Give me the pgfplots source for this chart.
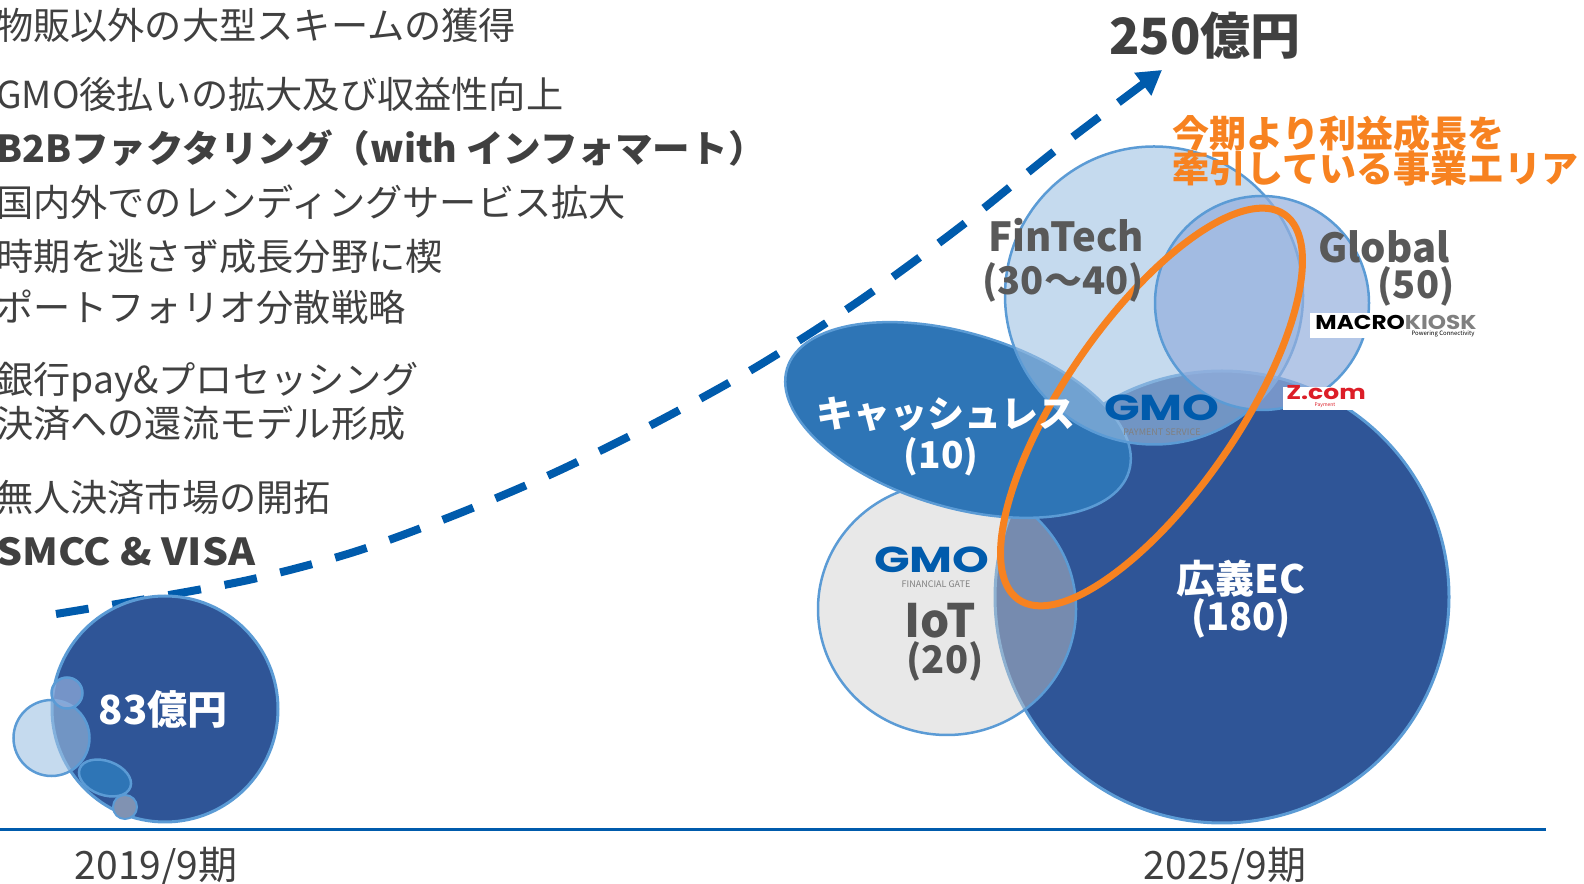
\documentclass[border=0pt]{standalone}
\usepackage{pgfplots}
\pgfplotsset{compat=1.18}
\usetikzlibrary{arrows.meta}
\usepackage{fontspec}
\setmainfont{Noto Sans CJK JP}
\newfontfamily\poppins{Poppins}
\definecolor{ecblue}{RGB}{47,85,151}
\definecolor{edgeblue}{RGB}{91,155,213}
\definecolor{ftblue}{RGB}{158,193,227}
\definecolor{glblue}{RGB}{148,175,221}
\definecolor{cashblue}{RGB}{46,117,182}
\definecolor{iotgray}{RGB}{205,205,205}
\definecolor{iotsmall}{RGB}{128,146,178}
\definecolor{orng}{RGB}{247,130,32}
\definecolor{dashblue}{RGB}{0,91,172}
\definecolor{txtgray}{RGB}{64,64,64}
\definecolor{lblgray}{RGB}{89,89,89}
\definecolor{zred}{RGB}{220,30,40}
\colorlet{bc0}{ecblue}
\colorlet{bc1}{ftblue}
\colorlet{bc2}{glblue}
\colorlet{bc3}{cashblue}
\colorlet{bc4}{iotsmall}
\colorlet{bc5}{iotgray}
\colorlet{bc6}{white}
\colorlet{bc7}{edgeblue}
\colorlet{bc8}{orng}
\pgfdeclareplotmark{empty}{}
\newcommand{\fs}[1]{\fontsize{#1}{#1}\selectfont}

% fc / ec are colour indices bc0..bc8
\pgfplotstableread{
x y rx ry ang fc fo ec lw
165 709 113 113 0 0 1 7 3
51.5 738 38 38 0 1 0.6 7 2.5
67 693 15.5 15.5 0 2 0.7 7 2.5
105 778 27 17 -20 3 1 7 2.5
125 807 12 12 0 4 1 7 2
1222 597 227 226 0 0 1 7 3
947 609 129 126 0 5 0.45 7 2.5
958 420 178.5 87 -16.7 3 1 7 2.5
1154 295.5 149 149 0 1 0.6 7 2.5
1262 303 107 107 0 2 0.7 7 2.5
}\bubbles

\pgfplotstableread{
x y rx ry ang fc fo ec lw
1151.5 407 234 87 55.4 6 0 8 7
}\focus

\newcommand{\bubblepath}{%
  \pgfmathsetmacro\bAx{\bRX*cos(\bAng)}%
  \pgfmathsetmacro\bAy{\bRX*sin(\bAng)}%
  \pgfmathsetmacro\bBx{-\bRY*sin(\bAng)}%
  \pgfmathsetmacro\bBy{\bRY*cos(\bAng)}%
  \pgfpathellipse{\pgfpointorigin}{\pgfpoint{\bAx pt}{\bAy pt}}{\pgfpoint{\bBx pt}{\bBy pt}}}

\pgfplotsset{bubble/.style={
  scatter, only marks, mark=empty,
  visualization depends on={\thisrow{rx}\as\bRX},
  visualization depends on={\thisrow{ry}\as\bRY},
  visualization depends on={\thisrow{ang}\as\bAng},
  visualization depends on={\thisrow{fo}\as\bFO},
  visualization depends on={\thisrow{lw}\as\bLW},
  visualization depends on={\thisrow{fc}\as\bFC},
  visualization depends on={\thisrow{ec}\as\bEC},
  scatter/@pre marker code/.code={%
    \pgfmathtruncatemacro\bFCi{\bFC}%
    \pgfmathtruncatemacro\bECi{\bEC}%
    \begin{pgfscope}%
      \pgfsetfillcolor{bc\bFCi}\pgfsetfillopacity{\bFO}%
      \bubblepath\pgfusepath{fill}%
    \end{pgfscope}%
    \begin{pgfscope}%
      \pgfsetstrokecolor{bc\bECi}\pgfsetstrokeopacity{1}\pgfsetlinewidth{\bLW pt}%
      \bubblepath\pgfusepath{stroke}%
    \end{pgfscope}%
  },
  scatter/@post marker code/.code={},
}}

\begin{document}
\begin{tikzpicture}
\begin{axis}[
  width=1584pt, height=883pt, scale only axis,
  xmin=0, xmax=1584, ymin=0, ymax=883, y dir=reverse,
  hide axis, clip=false, set layers=standard,
]
\coordinate (BL) at (axis cs:0,883);
\coordinate (TR) at (axis cs:1584,0);

% base line
\addplot[dashblue, line width=3pt] coordinates {(0,829.5) (1546,829.5)};

% growth arrow
\addplot[dashblue, line width=8pt, smooth, dash pattern=on 33pt off 24pt,
  -{Triangle[length=24pt, width=27pt]}] coordinates {
(56,614) (152,598) (253,579) (354,552) (455,515) (556,472) (657,422)
(758,366) (859,301) (960,227) (1061,146) (1162,70)};

% bubbles
\addplot[bubble] table[x=x, y=y] {\bubbles};
% focus ellipse
\addplot[bubble] table[x=x, y=y] {\focus};

\begin{pgfonlayer}{axis foreground}
% left text
\begin{scope}[every node/.style={anchor=base west, inner sep=0pt, text=txtgray, font=\fs{37.2}}]
\node at (axis cs:-4,40) {物販以外の大型スキームの獲得};
\node at (axis cs:-4,109) {GMO後払いの拡大及び収益性向上};
\node[xscale=1.01] at (axis cs:-4,162.5) {\bfseries B2Bファクタリング（with インフォマート）};
\node at (axis cs:-4,217) {国内外でのレンディングサービス拡大};
\node at (axis cs:-4,270.5) {時期を逃さず成長分野に楔};
\node at (axis cs:-4,322) {ポートフォリオ分散戦略};
\node at (axis cs:-4,394) {銀行pay\&プロセッシング};
\node at (axis cs:-4,438) {決済への還流モデル形成};
\node at (axis cs:-4,512) {無人決済市場の開拓};
\node[xscale=1.1] at (axis cs:-4,566) {\bfseries SMCC \& VISA};
\end{scope}

% headline and orange note
\node[anchor=base, inner sep=0pt, text=txtgray, font=\fs{50}\bfseries] at (axis cs:1205,54.5) {250億円};
\node[anchor=base west, inner sep=0pt, text=orng, font=\fs{37}\bfseries] at (axis cs:1172,147.3) {今期より利益成長を};
\node[anchor=base west, inner sep=0pt, text=orng, font=\fs{37}\bfseries] at (axis cs:1172,182.7) {牽引している事業エリア};

% bubble labels
\begin{scope}[every node/.style={anchor=base, inner sep=0pt}]
\node[text=lblgray, font=\fs{40}\bfseries] at (axis cs:1066,252) {FinTech};
\node[text=lblgray, font=\fs{38}\bfseries] at (axis cs:1063,295) {(30〜40)};
\node[text=lblgray, font=\fs{40}\bfseries] at (axis cs:1384,263) {Global};
\node[text=lblgray, font=\fs{38}\bfseries] at (axis cs:1416,299) {(50)};
\node[text=white, font=\fs{37}\bfseries] at (axis cs:946,428) {キャッシュレス};
\node[text=white, font=\fs{37}\bfseries] at (axis cs:941,469) {(10)};
\node[text=white, font=\fs{39}\bfseries] at (axis cs:1241,594) {広義EC};
\node[text=white, font=\fs{38}\bfseries] at (axis cs:1241,631) {(180)};
\node[text=txtgray!90!white, font=\fs{46}\bfseries] at (axis cs:940,638) {IoT};
\node[text=txtgray!90!white, font=\fs{38}\bfseries] at (axis cs:945,674) {(20)};
\node[text=white, font=\fs{40}\bfseries] at (axis cs:163,725) {83億円};
\node[text=txtgray, font=\fs{39}] at (axis cs:156,880) {2019/9期};
\node[text=txtgray, font=\fs{39}] at (axis cs:1225,880) {2025/9期};
\end{scope}

% logos
\node[inner sep=0pt, text=dashblue, font=\poppins\fs{36}\bfseries, xscale=1.3] at (axis cs:1162,408) {GMO};
\node[inner sep=0pt, text=gray, font=\fs{9}] at (axis cs:1162,432) {PAYMENT SERVICE};
\node[inner sep=0pt, text=dashblue, font=\poppins\fs{36}\bfseries, xscale=1.3] at (axis cs:932,560) {GMO};
\node[inner sep=0pt, text=gray, font=\fs{9}] at (axis cs:936,584) {FINANCIAL GATE};
\node[fill=white, inner sep=0pt, minimum width=172pt, minimum height=25pt] at (axis cs:1396,325.5) {};
\node[inner sep=0pt, font=\poppins\fs{20}\bfseries, xscale=1.16] at (axis cs:1396,322) {MACRO\textcolor{gray}{KIOSK}};
\node[inner sep=0pt, font=\fs{6}] at (axis cs:1443,334) {Powering Connectivity};
\node[fill=white, inner sep=0pt, minimum width=82pt, minimum height=23pt] at (axis cs:1324,398.5) {};
\node[inner sep=0pt, text=zred, font=\poppins\fs{20}\bfseries, xscale=1.25] at (axis cs:1326,393) {Z.com};
\node[inner sep=0pt, text=zred, font=\fs{5}] at (axis cs:1325,405) {Payment};
\end{pgfonlayer}
\end{axis}
\pgfresetboundingbox
\path[use as bounding box] (BL) rectangle (TR);
\end{tikzpicture}
\end{document}
